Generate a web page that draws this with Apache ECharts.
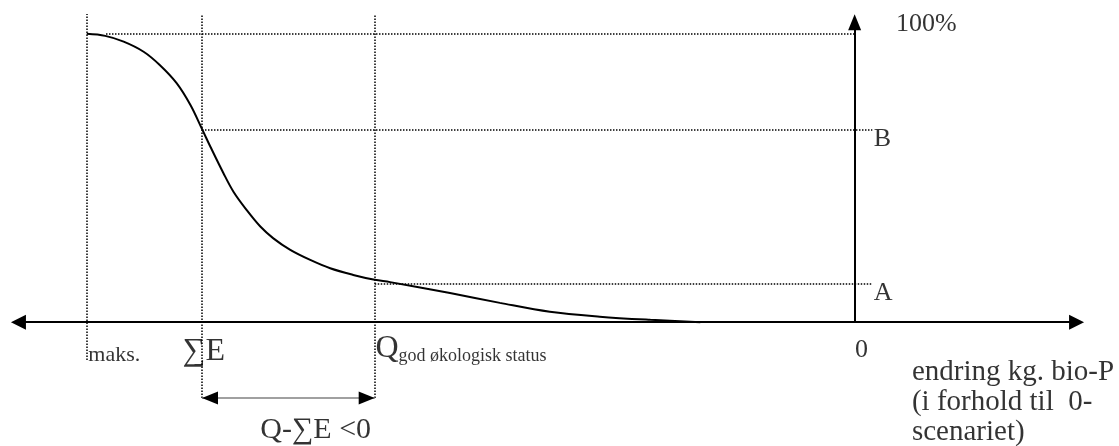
<!DOCTYPE html>
<html><head><meta charset="utf-8">
<script src="https://cdn.jsdelivr.net/npm/echarts@6/dist/echarts.min.js"></script>
<style>html,body{margin:0;padding:0;background:#fff}#c{width:1119px;height:446px}</style>
</head><body><div id="c"></div>
<script>
// Curve (x: change in kg bio-P relative to 0-scenario, y: percent)
const curveX = [-100.0,-97.6,-95.2,-92.6,-90.5,-88.3,-86.5,-85.0,-83.9,-82.2,-80.9,-79.2,-77.4,-75.7,-73.5,-70.9,-68.3,-65.3,-62.5,-60.5,-52.7,-46.2,-39.7,-33.2,-26.6,-20.1];
const curveY = [100.1,99.4,97.4,93.9,89.3,83.0,75.4,67.1,60.9,51.7,45.3,39.0,33.2,29.1,25.1,21.6,18.7,16.4,14.7,13.9,10.1,6.7,3.6,1.9,0.8,0];

// Vertical dotted guides: maks., ΣE, Q
const guideX = [-100, -85, -62.5];
const guideBottom = [-13.1, -26.3, -26.3];
const guideTop = 107;

// Horizontal dotted levels: 100%, B, A
const levelY = [100, 66.7, 13.5];
const levelStartX = [-97.5, -85, -62.5];
const levelEndX = [0, 2.3, 2.3];

// Axis extents (arrow endpoints)
const axisXRange = [-108.9, 28.9];
const axisYTop = 104.1;

// Span arrow Q - ΣE
const spanY = -26.3;

// Text labels and their anchors (data coords)
const labelTexts = ['100%', 'B', 'A', '0', 'endring kg. bio-P\n(i forhold til  0-\nscenariet)', 'maks.', '∑E', 'Q', 'Q-∑E <0'];
const labelAnchorX = [5.4, 2.5, 2.5, 0.05, 7.46, -99.8, -87.5, -62.4, -77.4];
const labelAnchorY = [103.5, 63.6, 10.0, -9.65, -28.0, -11.6, -10.3, -9.3, -37.4];

const FONT = '"Liberation Serif","Times New Roman",serif';
const dotted = {color:'#000', width:1.5, type:[1.5,1.5]};

const markData = [];
// axes
markData.push([{coord:[axisXRange[0],0], symbol:'triangle', symbolSize:[15,15], lineStyle:{color:'#000', width:2, type:'solid'}},
               {coord:[axisXRange[1],0], symbol:'triangle', symbolSize:[15,15]}]);
markData.push([{coord:[0,0], symbol:'none', lineStyle:{color:'#000', width:2, type:'solid'}},
               {coord:[0,axisYTop], symbol:'triangle', symbolSize:[13,16]}]);
// vertical guides
guideX.forEach((x,i)=>{
  markData.push([{coord:[x,guideBottom[i]], symbol:'none', lineStyle:dotted},{coord:[x,guideTop], symbol:'none'}]);
});
// horizontal levels
levelY.forEach((y,i)=>{
  markData.push([{coord:[levelStartX[i],y], symbol:'none', lineStyle:dotted},{coord:[levelEndX[i],y], symbol:'none'}]);
});
// span arrow (gray shaft, black heads)
markData.push([{coord:[guideX[1],spanY], symbol:'none', lineStyle:{color:'#808080', width:1.6, type:'solid'}},
               {coord:[guideX[2],spanY], symbol:'none'}]);
markData.push([{coord:[guideX[1]+1.05,spanY], symbol:'triangle', symbolSize:[13,16], lineStyle:{color:'#000', width:0, type:'solid'}},
               {coord:[guideX[2]-1.05,spanY], symbol:'triangle', symbolSize:[13,16]}]);

const baseLabel = {show:true, position:'right', distance:0, color:'#000', fontFamily:FONT, align:'left', verticalAlign:'middle'};
const labelStyles = [
  {fontSize:26},
  {fontSize:26},
  {fontSize:26},
  {fontSize:26},
  {fontSize:29, lineHeight:30},
  {fontSize:22},
  {fontSize:32},
  {formatter:'{q|Q}{s|god økologisk status}', rich:{q:{fontSize:32, lineHeight:32, fontFamily:FONT, color:'#000'}, s:{fontSize:18, lineHeight:18, fontFamily:FONT, color:'#000', verticalAlign:'bottom'}}},
  {fontSize:30}
];
const labelData = labelTexts.map((t,i)=>({
  value:[labelAnchorX[i], labelAnchorY[i]],
  label:Object.assign({}, baseLabel, {formatter:t}, labelStyles[i])
}));

const chart = echarts.init(document.getElementById('c'), null, {renderer:'canvas'});
chart.setOption({
  animation:false,
  backgroundColor:'#fff',
  grid:{left:10, right:34, top:14, bottom:0, containLabel:false},
  xAxis:{type:'value', min:-110, max:30, show:false},
  yAxis:{type:'value', min:-43, max:107, show:false},
  series:[
    {
      type:'line', data:curveX.map((x,i)=>[x,curveY[i]]), smooth:0.35, showSymbol:false,
      lineStyle:{color:'#000', width:2}, z:5, silent:true,
      markLine:{silent:true, animation:false, label:{show:false}, emphasis:{disabled:true}, data:markData}
    },
    {
      type:'scatter', symbolSize:0, silent:true, clip:false, data:labelData, z:6
    }
  ]
});
</script></body></html>
